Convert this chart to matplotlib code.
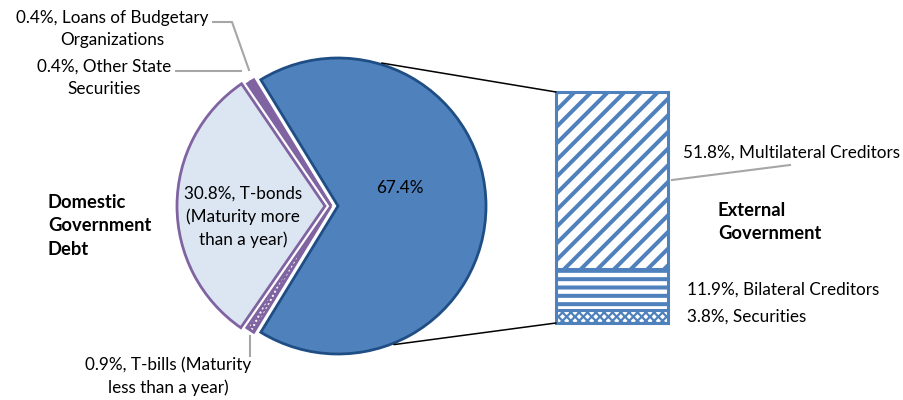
import matplotlib.pyplot as plt
from matplotlib.patches import ConnectionPatch
import numpy as np

# Government debt structure (shares of total, %)
pie_labels = ['External', 'Loans of Budgetary Organizations', 'Other State Securities',
              'T-bonds', 'T-bills']
pie_values = [67.4, 0.4, 0.4, 30.8, 0.9]
bar_labels = ['Securities', 'Bilateral Creditors', 'Multilateral Creditors']
bar_values = [3.8, 11.9, 51.8]

plt.rcParams['font.family'] = ['Lato', 'DejaVu Sans']

BLUE = '#4F81BD'
DARK_BLUE = '#1F4E85'
PURPLE = '#8064A2'
LIGHT = '#DCE6F2'
GREY = '#A6A6A6'

W, H = 904, 400
fig = plt.figure(figsize=(W / 100, H / 100), dpi=100)

def fx(px):
    return px / W

def fy(py):
    return 1 - py / H

# pie axes: centre at (338, 206) px, radius 148 px
cx, cy, r, half = 338, 206, 148, 190
ax = fig.add_axes([fx(cx - half), fy(cy + half), 2 * half / W, 2 * half / H])
total = sum(pie_values)
start = -pie_values[0] / total * 180
faces = [BLUE, PURPLE, PURPLE, LIGHT, PURPLE]
edges = [DARK_BLUE, PURPLE, PURPLE, PURPLE, PURPLE]
shift_px = [0, 7, 7, 13, 7]   # domestic slices pulled to the left
wedges, _ = ax.pie(pie_values, startangle=start, colors=faces,
                   wedgeprops=dict(linewidth=2.0))
outline, _ = ax.pie(pie_values, startangle=start,
                    wedgeprops=dict(linewidth=2.0, facecolor='none'))
for i, (w, o) in enumerate(zip(wedges, outline)):
    w.set_center((-shift_px[i] / r, 0))
    o.set_center((-shift_px[i] / r, 0))
    w.set_edgecolor(edges[i])
    o.set_edgecolor('none')
# dotted pattern on T-bills
tb = wedges[4]
tb.set_hatch('....')
tb.set_edgecolor('white')
tb.set_linewidth(0)
outline[4].set_edgecolor(PURPLE)
lim = half / r
ax.set_aspect('auto')
ax.set_xlim(-lim, lim)
ax.set_ylim(-lim, lim)
ax.axis('off')

# bar of external debt
bx = fig.add_axes([fx(556), fy(323), 112 / W, 231 / H])
hatches = ['xxxx', '--', '//']
bottom = 0
for val, hatch in zip(bar_values, hatches):
    with plt.rc_context({'hatch.linewidth': 2.9 if hatch != 'xxxx' else 1.6}):
        bx.bar(0, val, width=1, bottom=bottom, color='white', edgecolor=BLUE,
               hatch=hatch, linewidth=2.2, clip_on=False)
    bottom += val
bx.set_xlim(-0.5, 0.5)
bx.set_ylim(0, sum(bar_values))
bx.axis('off')

# connector lines from pie to bar
for ang, yb in [(73.0, sum(bar_values)), (-68, 0)]:
    t = np.deg2rad(ang)
    con = ConnectionPatch(xyA=(np.cos(t) * 1.01, np.sin(t) * 1.01), coordsA=ax.transData,
                          xyB=(-0.5, yb), coordsB=bx.transData, color='black', lw=1.1)
    fig.add_artist(con)

fs = 12.3
fb = 13.2
# labels
fig.text(fx(112), fy(29), '0.4%, Loans of Budgetary\nOrganizations', ha='center', va='center',
         fontsize=fs, linespacing=1.5)
fig.text(fx(104), fy(78), '0.4%, Other State\nSecurities', ha='center', va='center',
         fontsize=fs, linespacing=1.5)
fig.text(fx(243), fy(217), '30.8%, T-bonds\n(Maturity more\nthan a year)', ha='center',
         va='center', fontsize=fs, linespacing=1.5)
fig.text(fx(400), fy(188), '67.4%', ha='center', va='center', fontsize=fs)
fig.text(fx(48), fy(226), 'Domestic\nGovernment\nDebt', ha='left', va='center',
         fontsize=fb, fontweight='bold', linespacing=1.45)
fig.text(fx(718), fy(222), 'External\nGovernment', ha='left', va='center',
         fontsize=fb, fontweight='bold', linespacing=1.45)
fig.text(fx(683), fy(153), '51.8%, Multilateral Creditors', ha='left', va='center', fontsize=fs)
fig.text(fx(687), fy(290), '11.9%, Bilateral Creditors', ha='left', va='center', fontsize=fs)
fig.text(fx(687), fy(317), '3.8%, Securities', ha='left', va='center', fontsize=fs)
fig.text(fx(168), fy(376), '0.9%, T-bills (Maturity\nless than a year)', ha='center',
         va='center', fontsize=fs, linespacing=1.5)

# leader lines
leaders = [([213, 232, 249], [22, 22, 70]),
           ([176, 241], [71, 71]),
           ([672, 790], [180, 165]),
           ([250, 250], [336, 356])]
for xs, ys in leaders:
    fig.add_artist(plt.Line2D([fx(v) for v in xs], [fy(v) for v in ys], color=GREY, lw=1.5))

fig.savefig('out.png', dpi=100)
